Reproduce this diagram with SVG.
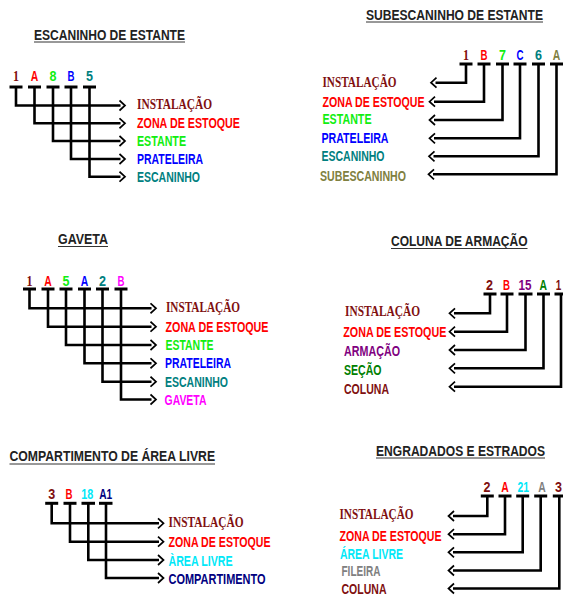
<svg xmlns="http://www.w3.org/2000/svg" width="563" height="596" viewBox="0 0 563 596">
<style>
.t{font-family:"Liberation Sans",Arial,sans-serif;font-weight:bold;font-size:15.5px;fill:#222}
.ul{stroke:#333;stroke-width:1}
.l{font-family:"Liberation Sans",Arial,sans-serif;font-weight:bold;font-size:14px}
.s{font-family:"Liberation Serif","Times New Roman",serif;font-weight:bold;font-size:15.5px;fill:#801010}
.d{font-family:"Liberation Sans",Arial,sans-serif;font-weight:bold;font-size:14.5px;text-anchor:middle}
.ds{font-family:"Liberation Serif","Times New Roman",serif;font-weight:bold;font-size:15.5px;text-anchor:middle;fill:#801010}
.bar{stroke:#000;stroke-width:3}
.c{fill:none;stroke:#000;stroke-width:2.6}
.c1{marker-end:url(#ah)}
.mr{fill:#801010}.rd{fill:#ff0000}.gr{fill:#11ee11}.bl{fill:#0000ff}.tl{fill:#008080}.ol{fill:#808040}
.mg{fill:#ff00ff}.pu{fill:#800080}.dg{fill:#008000}.cy{fill:#00e8f8}.nv{fill:#000080}.gy{fill:#808080}
</style>
<defs>
<marker id="ah" markerUnits="userSpaceOnUse" markerWidth="10" markerHeight="13" refX="2" refY="6.5" orient="auto">
<path d="M1,1.5 L6.5,6.5 L1,11.5" fill="none" stroke="#000" stroke-width="1.7"/>
</marker>
</defs>

<!-- Titles -->
<g id="titles">
<text class="t" transform="translate(34,40) scale(0.78,1)" textLength="193.6" lengthAdjust="spacingAndGlyphs">ESCANINHO DE ESTANTE</text>
<line class="ul" x1="34" y1="42" x2="185" y2="42"/>
<text class="t" transform="translate(366,20) scale(0.78,1)" textLength="226.9" lengthAdjust="spacingAndGlyphs">SUBESCANINHO DE ESTANTE</text>
<line class="ul" x1="366" y1="22" x2="543" y2="22"/>
<text class="t" transform="translate(58,243.5) scale(0.78,1)" textLength="64.1" lengthAdjust="spacingAndGlyphs">GAVETA</text>
<line class="ul" x1="58" y1="246.5" x2="108" y2="246.5"/>
<text class="t" transform="translate(391,245.5) scale(0.78,1)" textLength="175" lengthAdjust="spacingAndGlyphs">COLUNA DE ARMAÇÃO</text>
<line class="ul" x1="391" y1="248.5" x2="527.5" y2="248.5"/>
<text class="t" transform="translate(9.5,461) scale(0.78,1)" textLength="263.5" lengthAdjust="spacingAndGlyphs">COMPARTIMENTO DE ÁREA LIVRE</text>
<line class="ul" x1="9.5" y1="464" x2="215" y2="464"/>
<text class="t" transform="translate(376,455.5) scale(0.78,1)" textLength="216.7" lengthAdjust="spacingAndGlyphs">ENGRADADOS E ESTRADOS</text>
<line class="ul" x1="376" y1="458" x2="545" y2="458"/>
</g>

<!-- Connectors -->
<g id="connectors">
<path class="c c1" d="M16,87 V105.5 H120.5"/>
<path class="c c1" d="M34.5,87 V123.3 H120.5"/>
<path class="c c1" d="M53,87 V141 H120.5"/>
<path class="c c1" d="M71,87 V159 H120.5"/>
<path class="c c1" d="M89.5,87 V176.7 H120.5"/>
<path class="c c1" d="M466,64 V82.7 H435.5"/>
<path class="c c1" d="M484,64 V101.7 H434"/>
<path class="c c1" d="M502.5,64 V120 H434"/>
<path class="c c1" d="M520,64 V138.3 H434"/>
<path class="c c1" d="M538.5,64 V156.3 H433.5"/>
<path class="c c1" d="M556.5,64 V174.3 H433"/>
<path class="c c1" d="M29.5,289 V308.3 H151.5"/>
<path class="c c1" d="M48,289 V326.7 H151.5"/>
<path class="c c1" d="M66,289 V345 H151.5"/>
<path class="c c1" d="M84.5,289 V363.3 H151.5"/>
<path class="c c1" d="M102.5,289 V381.7 H151.5"/>
<path class="c c1" d="M121,289 V399.5 H151.5"/>
<path class="c c1" d="M490,294 V313.3 H454"/>
<path class="c c1" d="M507,294 V331.7 H454"/>
<path class="c c1" d="M525.5,294 V350 H454"/>
<path class="c c1" d="M543.5,294 V368.3 H454"/>
<path class="c c1" d="M561,294 V386.7 H454"/>
<path class="c c1" d="M51.7,503.3 V523.3 H159"/>
<path class="c c1" d="M70,503.3 V541.7 H159"/>
<path class="c c1" d="M88.3,503.3 V560 H159"/>
<path class="c c1" d="M106,503.3 V578 H159"/>
<path class="c c1" d="M487.3,496 V516 H453"/>
<path class="c c1" d="M505,496 V534.2 H453"/>
<path class="c c1" d="M522.7,496 V552.3 H453"/>
<path class="c c1" d="M540.7,496 V570.5 H453"/>
<path class="c c1" d="M559.3,496 V588.5 H453"/>
</g>

<!-- Panel 1 nodes -->
<g id="p1-d1"><text class="ds" x="16" y="81" textLength="6" lengthAdjust="spacingAndGlyphs">1</text><line class="bar" x1="9.5" y1="87" x2="22.5" y2="87"/></g>
<g id="p1-d2"><text class="d rd" x="34.5" y="81" textLength="7.5" lengthAdjust="spacingAndGlyphs">A</text><line class="bar" x1="28" y1="87" x2="41" y2="87"/></g>
<g id="p1-d3"><text class="d gr" x="53" y="81" textLength="7" lengthAdjust="spacingAndGlyphs">8</text><line class="bar" x1="46.5" y1="87" x2="59.5" y2="87"/></g>
<g id="p1-d4"><text class="d bl" x="71" y="81" textLength="7" lengthAdjust="spacingAndGlyphs">B</text><line class="bar" x1="64.5" y1="87" x2="77.5" y2="87"/></g>
<g id="p1-d5"><text class="d tl" x="89.5" y="81" textLength="7" lengthAdjust="spacingAndGlyphs">5</text><line class="bar" x1="83" y1="87" x2="96" y2="87"/></g>
<g id="p1-l1"><text class="s" x="137" y="109" textLength="75" lengthAdjust="spacingAndGlyphs">INSTALAÇÃO</text></g>
<g id="p1-l2"><text class="l rd" x="137" y="128" textLength="103" lengthAdjust="spacingAndGlyphs">ZONA DE ESTOQUE</text></g>
<g id="p1-l3"><text class="l gr" x="137" y="145.5" textLength="49" lengthAdjust="spacingAndGlyphs">ESTANTE</text></g>
<g id="p1-l4"><text class="l bl" x="137" y="163.5" textLength="66" lengthAdjust="spacingAndGlyphs">PRATELEIRA</text></g>
<g id="p1-l5"><text class="l tl" x="137" y="182" textLength="63" lengthAdjust="spacingAndGlyphs">ESCANINHO</text></g>

<!-- Panel 2 nodes -->
<g id="p2-d1"><text class="ds" x="466" y="60" textLength="6" lengthAdjust="spacingAndGlyphs">1</text><line class="bar" x1="459.5" y1="64" x2="472.5" y2="64"/></g>
<g id="p2-d2"><text class="d rd" x="484" y="60" textLength="7" lengthAdjust="spacingAndGlyphs">B</text><line class="bar" x1="477.5" y1="64" x2="490.5" y2="64"/></g>
<g id="p2-d3"><text class="d gr" x="502.5" y="60" textLength="7" lengthAdjust="spacingAndGlyphs">7</text><line class="bar" x1="496" y1="64" x2="509" y2="64"/></g>
<g id="p2-d4"><text class="d bl" x="520" y="60" textLength="7" lengthAdjust="spacingAndGlyphs">C</text><line class="bar" x1="513.5" y1="64" x2="526.5" y2="64"/></g>
<g id="p2-d5"><text class="d tl" x="538.5" y="60" textLength="7" lengthAdjust="spacingAndGlyphs">6</text><line class="bar" x1="532" y1="64" x2="545" y2="64"/></g>
<g id="p2-d6"><text class="d ol" x="556.5" y="60" textLength="7.5" lengthAdjust="spacingAndGlyphs">A</text><line class="bar" x1="550" y1="64" x2="563" y2="64"/></g>
<g id="p2-l1"><text class="s" x="322.5" y="86.5" textLength="74" lengthAdjust="spacingAndGlyphs">INSTALAÇÃO</text></g>
<g id="p2-l2"><text class="l rd" x="322.5" y="106.5" textLength="102" lengthAdjust="spacingAndGlyphs">ZONA DE ESTOQUE</text></g>
<g id="p2-l3"><text class="l gr" x="322.5" y="124" textLength="49" lengthAdjust="spacingAndGlyphs">ESTANTE</text></g>
<g id="p2-l4"><text class="l bl" x="321.5" y="142.5" textLength="67" lengthAdjust="spacingAndGlyphs">PRATELEIRA</text></g>
<g id="p2-l5"><text class="l tl" x="321.5" y="161" textLength="63" lengthAdjust="spacingAndGlyphs">ESCANINHO</text></g>
<g id="p2-l6"><text class="l ol" x="320" y="180.5" textLength="86" lengthAdjust="spacingAndGlyphs">SUBESCANINHO</text></g>

<!-- Panel 3 nodes -->
<g id="p3-d1"><text class="ds" x="29.5" y="285.5" textLength="6" lengthAdjust="spacingAndGlyphs">1</text><line class="bar" x1="23" y1="289" x2="36" y2="289"/></g>
<g id="p3-d2"><text class="d rd" x="48" y="285.5" textLength="7.5" lengthAdjust="spacingAndGlyphs">A</text><line class="bar" x1="41.5" y1="289" x2="54.5" y2="289"/></g>
<g id="p3-d3"><text class="d gr" x="66" y="285.5" textLength="7" lengthAdjust="spacingAndGlyphs">5</text><line class="bar" x1="59.5" y1="289" x2="72.5" y2="289"/></g>
<g id="p3-d4"><text class="d bl" x="84.5" y="285.5" textLength="7.5" lengthAdjust="spacingAndGlyphs">A</text><line class="bar" x1="78" y1="289" x2="91" y2="289"/></g>
<g id="p3-d5"><text class="d tl" x="102.5" y="285.5" textLength="7" lengthAdjust="spacingAndGlyphs">2</text><line class="bar" x1="96" y1="289" x2="109" y2="289"/></g>
<g id="p3-d6"><text class="d mg" x="121" y="285.5" textLength="7" lengthAdjust="spacingAndGlyphs">B</text><line class="bar" x1="114.5" y1="289" x2="127.5" y2="289"/></g>
<g id="p3-l1"><text class="s" x="166" y="312" textLength="74" lengthAdjust="spacingAndGlyphs">INSTALAÇÃO</text></g>
<g id="p3-l2"><text class="l rd" x="165.5" y="331.5" textLength="103" lengthAdjust="spacingAndGlyphs">ZONA DE ESTOQUE</text></g>
<g id="p3-l3"><text class="l gr" x="165.5" y="350" textLength="48" lengthAdjust="spacingAndGlyphs">ESTANTE</text></g>
<g id="p3-l4"><text class="l bl" x="165" y="368" textLength="66" lengthAdjust="spacingAndGlyphs">PRATELEIRA</text></g>
<g id="p3-l5"><text class="l tl" x="165" y="386.5" textLength="63" lengthAdjust="spacingAndGlyphs">ESCANINHO</text></g>
<g id="p3-l6"><text class="l mg" x="164.5" y="404.5" textLength="42" lengthAdjust="spacingAndGlyphs">GAVETA</text></g>

<!-- Panel 4 nodes -->
<g id="p4-d1"><text class="d mr" x="489.5" y="290" textLength="7" lengthAdjust="spacingAndGlyphs">2</text><line class="bar" x1="483.5" y1="294" x2="496.5" y2="294"/></g>
<g id="p4-d2"><text class="d rd" x="506.5" y="290" textLength="7" lengthAdjust="spacingAndGlyphs">B</text><line class="bar" x1="500.5" y1="294" x2="513.5" y2="294"/></g>
<g id="p4-d3"><text class="d pu" x="525" y="290" textLength="13" lengthAdjust="spacingAndGlyphs">15</text><line class="bar" x1="518.5" y1="294" x2="532.5" y2="294"/></g>
<g id="p4-d4"><text class="d dg" x="543.3" y="290" textLength="7.5" lengthAdjust="spacingAndGlyphs">A</text><line class="bar" x1="537" y1="294" x2="550" y2="294"/></g>
<g id="p4-d5"><text class="d mr" x="558.5" y="290" textLength="5.5" lengthAdjust="spacingAndGlyphs">1</text><line class="bar" x1="554.5" y1="294" x2="567.5" y2="294"/></g>
<g id="p4-l1"><text class="s" x="345" y="315.5" textLength="75" lengthAdjust="spacingAndGlyphs">INSTALAÇÃO</text></g>
<g id="p4-l2"><text class="l rd" x="343.3" y="337" textLength="103" lengthAdjust="spacingAndGlyphs">ZONA DE ESTOQUE</text></g>
<g id="p4-l3"><text class="l pu" x="344" y="356" textLength="56" lengthAdjust="spacingAndGlyphs">ARMAÇÃO</text></g>
<g id="p4-l4"><text class="l dg" x="344" y="375" textLength="37.5" lengthAdjust="spacingAndGlyphs">SEÇÃO</text></g>
<g id="p4-l5"><text class="l mr" x="344" y="393.5" textLength="45" lengthAdjust="spacingAndGlyphs">COLUNA</text></g>

<!-- Panel 5 nodes -->
<g id="p5-d1"><text class="d mr" x="51.7" y="498.5" textLength="7" lengthAdjust="spacingAndGlyphs">3</text><line class="bar" x1="45.2" y1="503.3" x2="58.2" y2="503.3"/></g>
<g id="p5-d2"><text class="d rd" x="69" y="498.5" textLength="7" lengthAdjust="spacingAndGlyphs">B</text><line class="bar" x1="63.5" y1="503.3" x2="76.5" y2="503.3"/></g>
<g id="p5-d3"><text class="d cy" x="87.3" y="498.5" textLength="12" lengthAdjust="spacingAndGlyphs">18</text><line class="bar" x1="81.5" y1="503.3" x2="95" y2="503.3"/></g>
<g id="p5-d4"><text class="d nv" x="105.7" y="498.5" textLength="13" lengthAdjust="spacingAndGlyphs">A1</text><line class="bar" x1="99" y1="503.3" x2="112.5" y2="503.3"/></g>
<g id="p5-l1"><text class="s" x="168.5" y="527" textLength="75" lengthAdjust="spacingAndGlyphs">INSTALAÇÃO</text></g>
<g id="p5-l2"><text class="l rd" x="168.5" y="546.5" textLength="102" lengthAdjust="spacingAndGlyphs">ZONA DE ESTOQUE</text></g>
<g id="p5-l3"><text class="l cy" x="168.5" y="565.5" textLength="64" lengthAdjust="spacingAndGlyphs">ÀREA LIVRE</text></g>
<g id="p5-l4"><text class="l nv" x="168.5" y="584" textLength="97" lengthAdjust="spacingAndGlyphs">COMPARTIMENTO</text></g>

<!-- Panel 6 nodes -->
<g id="p6-d1"><text class="d mr" x="487" y="491.5" textLength="7" lengthAdjust="spacingAndGlyphs">2</text><line class="bar" x1="480.8" y1="496" x2="493.8" y2="496"/></g>
<g id="p6-d2"><text class="d rd" x="505" y="491.5" textLength="7.5" lengthAdjust="spacingAndGlyphs">A</text><line class="bar" x1="498.5" y1="496" x2="511.5" y2="496"/></g>
<g id="p6-d3"><text class="d cy" x="523.3" y="491.5" textLength="11.5" lengthAdjust="spacingAndGlyphs">21</text><line class="bar" x1="516.2" y1="496" x2="529.2" y2="496"/></g>
<g id="p6-d4"><text class="d gy" x="542" y="491.5" textLength="7.5" lengthAdjust="spacingAndGlyphs">A</text><line class="bar" x1="534.2" y1="496" x2="547.2" y2="496"/></g>
<g id="p6-d5"><text class="d mr" x="558.5" y="491.5" textLength="7" lengthAdjust="spacingAndGlyphs">3</text><line class="bar" x1="552.8" y1="496" x2="565.8" y2="496"/></g>
<g id="p6-l1"><text class="s" x="339.5" y="519" textLength="74" lengthAdjust="spacingAndGlyphs">INSTALAÇÃO</text></g>
<g id="p6-l2"><text class="l rd" x="339.5" y="540.5" textLength="102" lengthAdjust="spacingAndGlyphs">ZONA DE ESTOQUE</text></g>
<g id="p6-l3"><text class="l cy" x="340" y="559" textLength="63" lengthAdjust="spacingAndGlyphs">ÁREA LIVRE</text></g>
<g id="p6-l4"><text class="l gy" x="341.5" y="576" textLength="39" lengthAdjust="spacingAndGlyphs">FILEIRA</text></g>
<g id="p6-l5"><text class="l mr" x="341.5" y="594" textLength="45" lengthAdjust="spacingAndGlyphs">COLUNA</text></g>
</svg>
